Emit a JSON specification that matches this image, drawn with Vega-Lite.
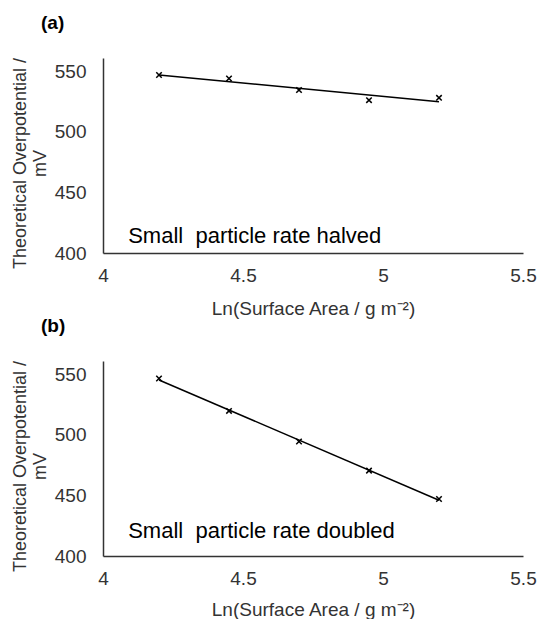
{
  "$schema": "https://vega.github.io/schema/vega-lite/v6.json",
  "padding": {"left": 10, "top": 14, "right": 5, "bottom": 0},
  "background": "white",
  "spacing": -1,
  "config": {
    "font": "Liberation Sans",
    "view": {"stroke": null},
    "axis": {
      "grid": false,
      "ticks": false,
      "tickSize": 0,
      "domainColor": "#333333",
      "domainWidth": 1.5,
      "labelFont": "Liberation Sans",
      "labelFontSize": 19,
      "labelColor": "#333333",
      "labelFlush": false,
      "titleFont": "Liberation Sans",
      "titleFontSize": 19,
      "titleFontWeight": "normal",
      "titleColor": "#333333"
    }
  },
  "datasets": {
    "points": [
      {"panel": "a", "ln_sa": 4.2, "overpotential": 546.9},
      {"panel": "a", "ln_sa": 4.45, "overpotential": 544.1},
      {"panel": "a", "ln_sa": 4.7, "overpotential": 534.5},
      {"panel": "a", "ln_sa": 4.95, "overpotential": 526.2},
      {"panel": "a", "ln_sa": 5.2, "overpotential": 528.1},
      {"panel": "b", "ln_sa": 4.2, "overpotential": 546.5},
      {"panel": "b", "ln_sa": 4.45, "overpotential": 519.8},
      {"panel": "b", "ln_sa": 4.7, "overpotential": 494.5},
      {"panel": "b", "ln_sa": 4.95, "overpotential": 470.5},
      {"panel": "b", "ln_sa": 5.2, "overpotential": 447.1}
    ],
    "notes": [
      {"panel": "a", "ln_sa": 4.09, "overpotential": 408.3, "label": "Small\u00a0 particle rate halved"},
      {"panel": "b", "ln_sa": 4.09, "overpotential": 414.6, "label": "Small\u00a0 particle rate doubled"}
    ]
  },
  "vconcat": [
    {
      "title": {"text": "(a)", "anchor": "start", "frame": "group", "dx": -62, "offset": 9, "fontSize": 19, "fontWeight": "bold", "baseline": "alphabetic", "color": "black", "font": "Liberation Sans"},
      "width": 420,
      "height": 195,
      "layer": [
        {
          "data": {"name": "points"},
          "transform": [{"filter": "datum.panel === 'a'"}],
          "mark": {"type": "point", "shape": "M-1,-1L1,1M-1,1L1,-1", "size": 30, "strokeWidth": 1.5, "color": "black", "filled": false, "opacity": 1},
          "encoding": {
            "x": {"field": "ln_sa", "type": "quantitative", "scale": {"domain": [4, 5.5], "nice": false, "zero": false},
              "axis": {"title": "Ln(Surface Area / g m\u207b\u00b2)", "values": [4, 4.5, 5, 5.5], "format": "~g", "labelPadding": 13, "titlePadding": 14}},
            "y": {"field": "overpotential", "type": "quantitative", "scale": {"domain": [400, 561], "nice": false, "zero": false},
              "axis": {"title": ["Theoretical Overpotential /", "mV"], "values": [400, 450, 500, 550], "format": "d", "labelPadding": 17,
                "titleFontSize": 18, "titleAngle": -90, "titleX": -92, "titleY": 105, "titleAlign": "center", "titleBaseline": "top", "titleLineHeight": 20}}
          }
        },
        {
          "data": {"name": "points"},
          "transform": [{"filter": "datum.panel === 'a'"}, {"regression": "overpotential", "on": "ln_sa"}],
          "mark": {"type": "line", "color": "black", "strokeWidth": 1.5},
          "encoding": {
            "x": {"field": "ln_sa", "type": "quantitative"},
            "y": {"field": "overpotential", "type": "quantitative"}
          }
        },
        {
          "data": {"name": "notes"},
          "transform": [{"filter": "datum.panel === 'a'"}],
          "mark": {"type": "text", "align": "left", "baseline": "alphabetic", "fontSize": 22, "color": "black", "font": "Liberation Sans"},
          "encoding": {
            "x": {"field": "ln_sa", "type": "quantitative"},
            "y": {"field": "overpotential", "type": "quantitative"},
            "text": {"field": "label"}
          }
        }
      ]
    },
    {
      "title": {"text": "(b)", "anchor": "start", "frame": "group", "dx": -62, "offset": 9, "fontSize": 19, "fontWeight": "bold", "baseline": "alphabetic", "color": "black", "font": "Liberation Sans"},
      "width": 420,
      "height": 195,
      "layer": [
        {
          "data": {"name": "points"},
          "transform": [{"filter": "datum.panel === 'b'"}],
          "mark": {"type": "point", "shape": "M-1,-1L1,1M-1,1L1,-1", "size": 30, "strokeWidth": 1.5, "color": "black", "filled": false, "opacity": 1},
          "encoding": {
            "x": {"field": "ln_sa", "type": "quantitative", "scale": {"domain": [4, 5.5], "nice": false, "zero": false},
              "axis": {"title": "Ln(Surface Area / g m\u207b\u00b2)", "values": [4, 4.5, 5, 5.5], "format": "~g", "labelPadding": 13, "titlePadding": 12}},
            "y": {"field": "overpotential", "type": "quantitative", "scale": {"domain": [400, 561], "nice": false, "zero": false},
              "axis": {"title": ["Theoretical Overpotential /", "mV"], "values": [400, 450, 500, 550], "format": "d", "labelPadding": 17,
                "titleFontSize": 18, "titleAngle": -90, "titleX": -92, "titleY": 105, "titleAlign": "center", "titleBaseline": "top", "titleLineHeight": 20}}
          }
        },
        {
          "data": {"name": "points"},
          "transform": [{"filter": "datum.panel === 'b'"}, {"regression": "overpotential", "on": "ln_sa"}],
          "mark": {"type": "line", "color": "black", "strokeWidth": 1.5},
          "encoding": {
            "x": {"field": "ln_sa", "type": "quantitative"},
            "y": {"field": "overpotential", "type": "quantitative"}
          }
        },
        {
          "data": {"name": "notes"},
          "transform": [{"filter": "datum.panel === 'b'"}],
          "mark": {"type": "text", "align": "left", "baseline": "alphabetic", "fontSize": 22, "color": "black", "font": "Liberation Sans"},
          "encoding": {
            "x": {"field": "ln_sa", "type": "quantitative"},
            "y": {"field": "overpotential", "type": "quantitative"},
            "text": {"field": "label"}
          }
        }
      ]
    }
  ]
}
